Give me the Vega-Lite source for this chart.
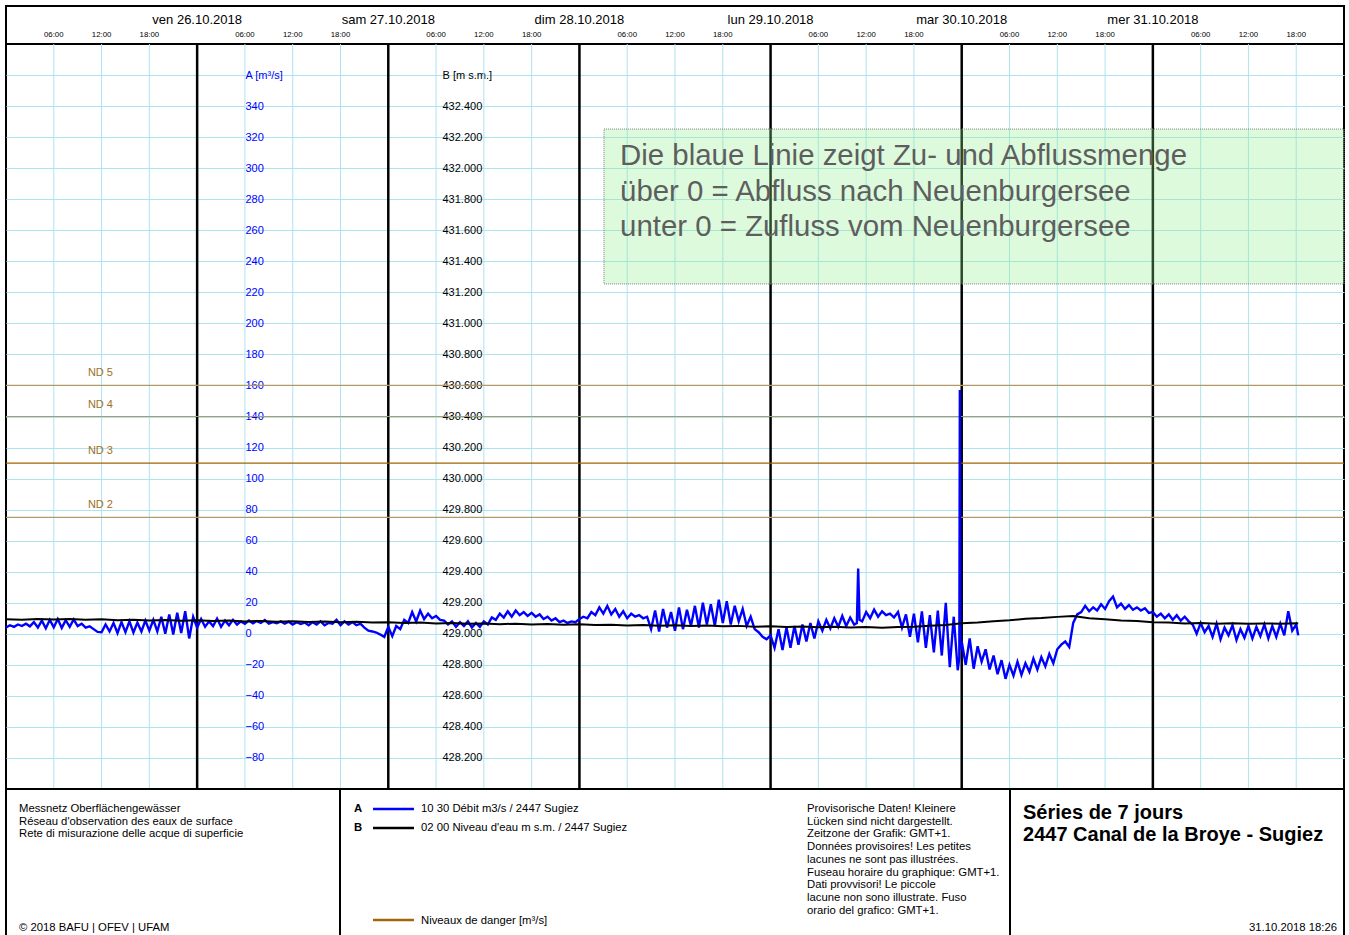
{
  "$schema": "https://vega.github.io/schema/vega-lite/v6.json",
  "padding": {"left": 0, "top": 5, "right": 5, "bottom": 0},
  "background": "white",
  "spacing": 0,
  "bounds": "flush",
  "config": {
    "font": "Liberation Sans",
    "view": {"stroke": "#000000", "strokeWidth": 2},
    "concat": {"spacing": 0}
  },
  "datasets": {
    "flow": [
      {"t":"2018-10-25T00:00","a":4},{"t":"2018-10-25T00:30","a":5.5},{"t":"2018-10-25T01:00","a":4.5},{"t":"2018-10-25T01:30","a":6},
      {"t":"2018-10-25T02:00","a":5},{"t":"2018-10-25T02:30","a":6.5},{"t":"2018-10-25T03:00","a":4.8},{"t":"2018-10-25T03:30","a":7.5},
      {"t":"2018-10-25T04:00","a":4},{"t":"2018-10-25T04:30","a":8.5},{"t":"2018-10-25T05:00","a":3.5},{"t":"2018-10-25T05:30","a":9},
      {"t":"2018-10-25T06:00","a":4.2},{"t":"2018-10-25T06:30","a":9.5},{"t":"2018-10-25T07:00","a":3.8},{"t":"2018-10-25T07:30","a":8.8},
      {"t":"2018-10-25T08:00","a":4.5},{"t":"2018-10-25T08:30","a":9.2},{"t":"2018-10-25T09:00","a":5},{"t":"2018-10-25T09:30","a":6.5},
      {"t":"2018-10-25T10:00","a":4},{"t":"2018-10-25T10:30","a":4.8},{"t":"2018-10-25T11:00","a":3},{"t":"2018-10-25T11:30","a":1.2},
      {"t":"2018-10-25T12:00","a":1},{"t":"2018-10-25T12:30","a":6},{"t":"2018-10-25T13:00","a":1.5},{"t":"2018-10-25T13:30","a":7},
      {"t":"2018-10-25T14:00","a":0.5},{"t":"2018-10-25T14:30","a":7.5},{"t":"2018-10-25T15:00","a":1},{"t":"2018-10-25T15:30","a":8},
      {"t":"2018-10-25T16:00","a":0.8},{"t":"2018-10-25T16:30","a":7.2},{"t":"2018-10-25T17:00","a":1.5},{"t":"2018-10-25T17:30","a":8.5},
      {"t":"2018-10-25T18:00","a":2},{"t":"2018-10-25T18:30","a":9},{"t":"2018-10-25T19:00","a":1.5},{"t":"2018-10-25T19:30","a":11},
      {"t":"2018-10-25T20:00","a":0},{"t":"2018-10-25T20:30","a":12.5},{"t":"2018-10-25T21:00","a":-0.5},{"t":"2018-10-25T21:30","a":13.5},
      {"t":"2018-10-25T22:00","a":0.5},{"t":"2018-10-25T22:30","a":14.5},{"t":"2018-10-25T23:00","a":-3},{"t":"2018-10-25T23:30","a":11},
      {"t":"2018-10-26T00:00","a":4},{"t":"2018-10-26T00:30","a":9.5},{"t":"2018-10-26T01:00","a":4.5},{"t":"2018-10-26T01:30","a":8},
      {"t":"2018-10-26T02:00","a":5},{"t":"2018-10-26T02:30","a":9.8},{"t":"2018-10-26T03:00","a":4.5},{"t":"2018-10-26T03:30","a":8.5},
      {"t":"2018-10-26T04:00","a":5.5},{"t":"2018-10-26T04:30","a":9},{"t":"2018-10-26T05:00","a":6},{"t":"2018-10-26T05:30","a":8},
      {"t":"2018-10-26T06:00","a":6.5},{"t":"2018-10-26T06:30","a":8.5},{"t":"2018-10-26T07:00","a":6.8},{"t":"2018-10-26T07:30","a":8.2},
      {"t":"2018-10-26T08:00","a":7},{"t":"2018-10-26T08:30","a":8.8},{"t":"2018-10-26T09:00","a":6.5},{"t":"2018-10-26T09:30","a":7.5},
      {"t":"2018-10-26T10:00","a":6.8},{"t":"2018-10-26T10:30","a":8},{"t":"2018-10-26T11:00","a":6.5},{"t":"2018-10-26T11:30","a":7.8},
      {"t":"2018-10-26T12:00","a":6},{"t":"2018-10-26T12:30","a":7.5},{"t":"2018-10-26T13:00","a":6.3},{"t":"2018-10-26T13:30","a":7.2},
      {"t":"2018-10-26T14:00","a":5.5},{"t":"2018-10-26T14:30","a":7.5},{"t":"2018-10-26T15:00","a":6},{"t":"2018-10-26T15:30","a":8},
      {"t":"2018-10-26T16:00","a":5.5},{"t":"2018-10-26T16:30","a":7},{"t":"2018-10-26T17:00","a":6.5},{"t":"2018-10-26T17:30","a":9},
      {"t":"2018-10-26T18:00","a":5.5},{"t":"2018-10-26T18:30","a":8},{"t":"2018-10-26T19:00","a":6},{"t":"2018-10-26T19:30","a":7.5},
      {"t":"2018-10-26T20:00","a":5.5},{"t":"2018-10-26T20:30","a":6.5},{"t":"2018-10-26T21:00","a":4},{"t":"2018-10-26T21:30","a":2},
      {"t":"2018-10-26T22:00","a":1.5},{"t":"2018-10-26T22:30","a":0.8},{"t":"2018-10-26T23:00","a":-0.5},{"t":"2018-10-26T23:30","a":-2},
      {"t":"2018-10-27T00:00","a":4.5},{"t":"2018-10-27T00:30","a":-1.5},{"t":"2018-10-27T01:00","a":5},{"t":"2018-10-27T01:30","a":3},
      {"t":"2018-10-27T02:00","a":9},{"t":"2018-10-27T02:30","a":7},{"t":"2018-10-27T03:00","a":14},{"t":"2018-10-27T03:30","a":8},
      {"t":"2018-10-27T04:00","a":15},{"t":"2018-10-27T04:30","a":9.5},{"t":"2018-10-27T05:00","a":13},{"t":"2018-10-27T05:30","a":10},
      {"t":"2018-10-27T06:00","a":11.5},{"t":"2018-10-27T06:30","a":9},{"t":"2018-10-27T07:00","a":8.5},{"t":"2018-10-27T07:30","a":6},
      {"t":"2018-10-27T08:00","a":8},{"t":"2018-10-27T08:30","a":4.5},{"t":"2018-10-27T09:00","a":7.5},{"t":"2018-10-27T09:30","a":5},
      {"t":"2018-10-27T10:00","a":8},{"t":"2018-10-27T10:30","a":4},{"t":"2018-10-27T11:00","a":7},{"t":"2018-10-27T11:30","a":4.5},
      {"t":"2018-10-27T12:00","a":8},{"t":"2018-10-27T12:30","a":6},{"t":"2018-10-27T13:00","a":10.5},{"t":"2018-10-27T13:30","a":9},
      {"t":"2018-10-27T14:00","a":13},{"t":"2018-10-27T14:30","a":10.5},{"t":"2018-10-27T15:00","a":14.5},{"t":"2018-10-27T15:30","a":11},
      {"t":"2018-10-27T16:00","a":15},{"t":"2018-10-27T16:30","a":12},{"t":"2018-10-27T17:00","a":14},{"t":"2018-10-27T17:30","a":11.5},
      {"t":"2018-10-27T18:00","a":13.5},{"t":"2018-10-27T18:30","a":11},{"t":"2018-10-27T19:00","a":12.5},{"t":"2018-10-27T19:30","a":9.5},
      {"t":"2018-10-27T20:00","a":11},{"t":"2018-10-27T20:30","a":8.5},{"t":"2018-10-27T21:00","a":10},{"t":"2018-10-27T21:30","a":7.5},
      {"t":"2018-10-27T22:00","a":8.5},{"t":"2018-10-27T22:30","a":7},{"t":"2018-10-27T23:00","a":8},{"t":"2018-10-27T23:30","a":7.5},
      {"t":"2018-10-28T00:00","a":9.5},{"t":"2018-10-28T00:30","a":11},{"t":"2018-10-28T01:00","a":10},{"t":"2018-10-28T01:30","a":14},
      {"t":"2018-10-28T02:00","a":12},{"t":"2018-10-28T02:30","a":17},{"t":"2018-10-28T03:00","a":13},{"t":"2018-10-28T03:30","a":18},
      {"t":"2018-10-28T04:00","a":12.5},{"t":"2018-10-28T04:30","a":16},{"t":"2018-10-28T05:00","a":11},{"t":"2018-10-28T05:30","a":14.5},
      {"t":"2018-10-28T06:00","a":10},{"t":"2018-10-28T06:30","a":13},{"t":"2018-10-28T07:00","a":11},{"t":"2018-10-28T07:30","a":12},
      {"t":"2018-10-28T08:00","a":10},{"t":"2018-10-28T08:30","a":11},{"t":"2018-10-28T09:00","a":3},{"t":"2018-10-28T09:30","a":15},
      {"t":"2018-10-28T10:00","a":1.5},{"t":"2018-10-28T10:30","a":16},{"t":"2018-10-28T11:00","a":4},{"t":"2018-10-28T11:30","a":14},
      {"t":"2018-10-28T12:00","a":2},{"t":"2018-10-28T12:30","a":17},{"t":"2018-10-28T13:00","a":3},{"t":"2018-10-28T13:30","a":15.5},
      {"t":"2018-10-28T14:00","a":5},{"t":"2018-10-28T14:30","a":18},{"t":"2018-10-28T15:00","a":4},{"t":"2018-10-28T15:30","a":20},
      {"t":"2018-10-28T16:00","a":6},{"t":"2018-10-28T16:30","a":19},{"t":"2018-10-28T17:00","a":5},{"t":"2018-10-28T17:30","a":22},
      {"t":"2018-10-28T18:00","a":7},{"t":"2018-10-28T18:30","a":21},{"t":"2018-10-28T19:00","a":6},{"t":"2018-10-28T19:30","a":18},
      {"t":"2018-10-28T20:00","a":8},{"t":"2018-10-28T20:30","a":16},{"t":"2018-10-28T21:00","a":5},{"t":"2018-10-28T21:30","a":11},
      {"t":"2018-10-28T22:00","a":3},{"t":"2018-10-28T22:30","a":1},{"t":"2018-10-28T23:00","a":-2},{"t":"2018-10-28T23:30","a":-3.5},
      {"t":"2018-10-29T00:00","a":-1},{"t":"2018-10-29T00:30","a":-9},{"t":"2018-10-29T01:00","a":3},{"t":"2018-10-29T01:30","a":-10.5},
      {"t":"2018-10-29T02:00","a":4},{"t":"2018-10-29T02:30","a":-9},{"t":"2018-10-29T03:00","a":5},{"t":"2018-10-29T03:30","a":-7},
      {"t":"2018-10-29T04:00","a":6},{"t":"2018-10-29T04:30","a":-5},{"t":"2018-10-29T05:00","a":7},{"t":"2018-10-29T05:30","a":-3},
      {"t":"2018-10-29T06:00","a":8},{"t":"2018-10-29T06:30","a":2},{"t":"2018-10-29T07:00","a":9},{"t":"2018-10-29T07:30","a":3.5},
      {"t":"2018-10-29T08:00","a":10},{"t":"2018-10-29T08:30","a":4.5},{"t":"2018-10-29T09:00","a":11.5},{"t":"2018-10-29T09:30","a":5},
      {"t":"2018-10-29T10:00","a":10.5},{"t":"2018-10-29T10:30","a":6},{"t":"2018-10-29T10:50","a":7},{"t":"2018-10-29T11:00","a":42},
      {"t":"2018-10-29T11:10","a":9},{"t":"2018-10-29T11:30","a":8},
      {"t":"2018-10-29T12:00","a":14},{"t":"2018-10-29T12:30","a":10},{"t":"2018-10-29T13:00","a":15.5},{"t":"2018-10-29T13:30","a":11},
      {"t":"2018-10-29T14:00","a":14.5},{"t":"2018-10-29T14:30","a":12},{"t":"2018-10-29T15:00","a":13},{"t":"2018-10-29T15:30","a":10.5},
      {"t":"2018-10-29T16:00","a":14},{"t":"2018-10-29T16:30","a":4},{"t":"2018-10-29T17:00","a":12.5},{"t":"2018-10-29T17:30","a":-2},
      {"t":"2018-10-29T18:00","a":13},{"t":"2018-10-29T18:30","a":-5.5},{"t":"2018-10-29T19:00","a":14.5},{"t":"2018-10-29T19:30","a":-9},
      {"t":"2018-10-29T20:00","a":12},{"t":"2018-10-29T20:30","a":-12},{"t":"2018-10-29T21:00","a":15},{"t":"2018-10-29T21:30","a":-14},
      {"t":"2018-10-29T22:00","a":20},{"t":"2018-10-29T22:30","a":-21.5},{"t":"2018-10-29T23:00","a":11},{"t":"2018-10-29T23:30","a":-23.5},
      {"t":"2018-10-29T23:42","a":-15},{"t":"2018-10-29T23:46","a":157},{"t":"2018-10-29T23:50","a":-10},
      {"t":"2018-10-30T00:00","a":-5},{"t":"2018-10-30T00:30","a":-20},{"t":"2018-10-30T01:00","a":-3},{"t":"2018-10-30T01:30","a":-22.5},
      {"t":"2018-10-30T02:00","a":-8},{"t":"2018-10-30T02:30","a":-18},{"t":"2018-10-30T03:00","a":-10},{"t":"2018-10-30T03:30","a":-23},
      {"t":"2018-10-30T04:00","a":-14},{"t":"2018-10-30T04:30","a":-26},{"t":"2018-10-30T05:00","a":-17},{"t":"2018-10-30T05:30","a":-29},
      {"t":"2018-10-30T06:00","a":-20},{"t":"2018-10-30T06:30","a":-27},{"t":"2018-10-30T07:00","a":-18},{"t":"2018-10-30T07:30","a":-26.5},
      {"t":"2018-10-30T08:00","a":-19},{"t":"2018-10-30T08:30","a":-24.5},{"t":"2018-10-30T09:00","a":-16},{"t":"2018-10-30T09:30","a":-23},
      {"t":"2018-10-30T10:00","a":-15},{"t":"2018-10-30T10:30","a":-21},{"t":"2018-10-30T11:00","a":-13},{"t":"2018-10-30T11:30","a":-19},
      {"t":"2018-10-30T12:00","a":-10},{"t":"2018-10-30T12:30","a":-7},{"t":"2018-10-30T13:00","a":-5},{"t":"2018-10-30T13:30","a":-8.5},
      {"t":"2018-10-30T14:00","a":7},{"t":"2018-10-30T14:30","a":12.5},{"t":"2018-10-30T15:00","a":14},{"t":"2018-10-30T15:30","a":18},
      {"t":"2018-10-30T16:00","a":14.5},{"t":"2018-10-30T16:30","a":17},{"t":"2018-10-30T17:00","a":15},{"t":"2018-10-30T17:30","a":19},
      {"t":"2018-10-30T18:00","a":16},{"t":"2018-10-30T18:30","a":21},{"t":"2018-10-30T19:00","a":24},{"t":"2018-10-30T19:30","a":17},
      {"t":"2018-10-30T20:00","a":19.5},{"t":"2018-10-30T20:30","a":16},{"t":"2018-10-30T21:00","a":18.5},{"t":"2018-10-30T21:30","a":15.5},
      {"t":"2018-10-30T22:00","a":17},{"t":"2018-10-30T22:30","a":15},{"t":"2018-10-30T23:00","a":16.5},{"t":"2018-10-30T23:30","a":13.5},
      {"t":"2018-10-31T00:00","a":14},{"t":"2018-10-31T00:30","a":11},{"t":"2018-10-31T01:00","a":13},{"t":"2018-10-31T01:30","a":10},
      {"t":"2018-10-31T02:00","a":12.5},{"t":"2018-10-31T02:30","a":9},{"t":"2018-10-31T03:00","a":12},{"t":"2018-10-31T03:30","a":8.5},
      {"t":"2018-10-31T04:00","a":11},{"t":"2018-10-31T04:30","a":8},{"t":"2018-10-31T05:00","a":6},{"t":"2018-10-31T05:30","a":0},
      {"t":"2018-10-31T06:00","a":7},{"t":"2018-10-31T06:30","a":1},{"t":"2018-10-31T07:00","a":5},{"t":"2018-10-31T07:30","a":-2},
      {"t":"2018-10-31T08:00","a":6.5},{"t":"2018-10-31T08:30","a":-3.5},{"t":"2018-10-31T09:00","a":4},{"t":"2018-10-31T09:30","a":-1},
      {"t":"2018-10-31T10:00","a":5.5},{"t":"2018-10-31T10:30","a":-4},{"t":"2018-10-31T11:00","a":3},{"t":"2018-10-31T11:30","a":-2.5},
      {"t":"2018-10-31T12:00","a":5},{"t":"2018-10-31T12:30","a":-3},{"t":"2018-10-31T13:00","a":4.5},{"t":"2018-10-31T13:30","a":-1.5},
      {"t":"2018-10-31T14:00","a":6},{"t":"2018-10-31T14:30","a":-3},{"t":"2018-10-31T15:00","a":5},{"t":"2018-10-31T15:30","a":-2},
      {"t":"2018-10-31T16:00","a":6.5},{"t":"2018-10-31T16:30","a":-1},{"t":"2018-10-31T17:00","a":14.5},{"t":"2018-10-31T17:30","a":2},
      {"t":"2018-10-31T18:00","a":6},{"t":"2018-10-31T18:15","a":-1}
    ],
    "level": [
      {"t":"2018-10-25T00:00","b":429.094},{"t":"2018-10-25T02:00","b":429.091},{"t":"2018-10-25T04:00","b":429.096},{"t":"2018-10-25T06:00","b":429.092},
      {"t":"2018-10-25T08:00","b":429.095},{"t":"2018-10-25T10:00","b":429.090},{"t":"2018-10-25T12:00","b":429.093},{"t":"2018-10-25T14:00","b":429.088},
      {"t":"2018-10-25T16:00","b":429.091},{"t":"2018-10-25T18:00","b":429.086},{"t":"2018-10-25T20:00","b":429.089},{"t":"2018-10-25T22:00","b":429.084},
      {"t":"2018-10-26T00:00","b":429.087},{"t":"2018-10-26T02:00","b":429.082},{"t":"2018-10-26T04:00","b":429.085},{"t":"2018-10-26T06:00","b":429.080},
      {"t":"2018-10-26T08:00","b":429.083},{"t":"2018-10-26T10:00","b":429.078},{"t":"2018-10-26T12:00","b":429.081},{"t":"2018-10-26T14:00","b":429.076},
      {"t":"2018-10-26T16:00","b":429.079},{"t":"2018-10-26T18:00","b":429.074},{"t":"2018-10-26T20:00","b":429.077},{"t":"2018-10-26T22:00","b":429.072},
      {"t":"2018-10-27T00:00","b":429.075},{"t":"2018-10-27T02:00","b":429.069},{"t":"2018-10-27T04:00","b":429.072},{"t":"2018-10-27T06:00","b":429.066},
      {"t":"2018-10-27T08:00","b":429.069},{"t":"2018-10-27T10:00","b":429.064},{"t":"2018-10-27T12:00","b":429.067},{"t":"2018-10-27T14:00","b":429.062},
      {"t":"2018-10-27T16:00","b":429.065},{"t":"2018-10-27T18:00","b":429.060},{"t":"2018-10-27T20:00","b":429.063},{"t":"2018-10-27T22:00","b":429.058},
      {"t":"2018-10-28T00:00","b":429.061},{"t":"2018-10-28T02:00","b":429.056},{"t":"2018-10-28T04:00","b":429.059},{"t":"2018-10-28T06:00","b":429.054},
      {"t":"2018-10-28T08:00","b":429.057},{"t":"2018-10-28T10:00","b":429.052},{"t":"2018-10-28T12:00","b":429.055},{"t":"2018-10-28T14:00","b":429.050},
      {"t":"2018-10-28T16:00","b":429.053},{"t":"2018-10-28T18:00","b":429.048},{"t":"2018-10-28T20:00","b":429.051},{"t":"2018-10-28T22:00","b":429.046},
      {"t":"2018-10-29T00:00","b":429.049},{"t":"2018-10-29T02:00","b":429.044},{"t":"2018-10-29T04:00","b":429.047},{"t":"2018-10-29T06:00","b":429.042},
      {"t":"2018-10-29T08:00","b":429.045},{"t":"2018-10-29T10:00","b":429.040},{"t":"2018-10-29T12:00","b":429.043},{"t":"2018-10-29T14:00","b":429.039},
      {"t":"2018-10-29T16:00","b":429.044},{"t":"2018-10-29T18:00","b":429.046},{"t":"2018-10-29T20:00","b":429.052},{"t":"2018-10-29T22:00","b":429.057},
      {"t":"2018-10-30T00:00","b":429.068},{"t":"2018-10-30T02:00","b":429.073},{"t":"2018-10-30T04:00","b":429.081},{"t":"2018-10-30T06:00","b":429.087},
      {"t":"2018-10-30T08:00","b":429.097},{"t":"2018-10-30T10:00","b":429.101},{"t":"2018-10-30T12:00","b":429.109},{"t":"2018-10-30T14:00","b":429.114},
      {"t":"2018-10-30T16:00","b":429.100},{"t":"2018-10-30T18:00","b":429.094},{"t":"2018-10-30T20:00","b":429.086},{"t":"2018-10-30T22:00","b":429.082},
      {"t":"2018-10-31T00:00","b":429.074},{"t":"2018-10-31T02:00","b":429.072},{"t":"2018-10-31T04:00","b":429.067},{"t":"2018-10-31T06:00","b":429.069},
      {"t":"2018-10-31T08:00","b":429.065},{"t":"2018-10-31T10:00","b":429.068},{"t":"2018-10-31T12:00","b":429.064},{"t":"2018-10-31T14:00","b":429.067},
      {"t":"2018-10-31T16:00","b":429.065},{"t":"2018-10-31T18:00","b":429.068},{"t":"2018-10-31T18:15","b":429.066}
    ],
    "days": [
      {"t":"2018-10-26T00:00","lab":"ven 26.10.2018"},
      {"t":"2018-10-27T00:00","lab":"sam 27.10.2018"},
      {"t":"2018-10-28T00:00","lab":"dim 28.10.2018"},
      {"t":"2018-10-29T00:00","lab":"lun 29.10.2018"},
      {"t":"2018-10-30T00:00","lab":"mar 30.10.2018"},
      {"t":"2018-10-31T00:00","lab":"mer 31.10.2018"}
    ],
    "hours": [
      {"t":"2018-10-25T06:00"},{"t":"2018-10-25T12:00"},{"t":"2018-10-25T18:00"},
      {"t":"2018-10-26T06:00"},{"t":"2018-10-26T12:00"},{"t":"2018-10-26T18:00"},
      {"t":"2018-10-27T06:00"},{"t":"2018-10-27T12:00"},{"t":"2018-10-27T18:00"},
      {"t":"2018-10-28T06:00"},{"t":"2018-10-28T12:00"},{"t":"2018-10-28T18:00"},
      {"t":"2018-10-29T06:00"},{"t":"2018-10-29T12:00"},{"t":"2018-10-29T18:00"},
      {"t":"2018-10-30T06:00"},{"t":"2018-10-30T12:00"},{"t":"2018-10-30T18:00"},
      {"t":"2018-10-31T06:00"},{"t":"2018-10-31T12:00"},{"t":"2018-10-31T18:00"}
    ],
    "danger": [
      {"nd":"ND 5","a":160},{"nd":"ND 4","a":140},{"nd":"ND 3","a":110},{"nd":"ND 2","a":75}
    ],
    "note": [
      {"txt":"Die blaue Linie zeigt Zu- und Abflussmenge\nüber 0 = Abfluss nach Neuenburgersee\nunter 0 = Zufluss vom Neuenburgersee"}
    ]
  },
  "vconcat": [
    {
      "width": 1338,
      "height": 38,
      "layer": [
        {
          "data": {"name": "days"},
          "mark": {"type": "text", "fontSize": 13, "align": "center", "baseline": "middle", "color": "#000000"},
          "encoding": {
            "x": {"field": "t", "type": "temporal", "scale": {"domain": [{"year":2018,"month":10,"date":25},{"year":2018,"month":11,"date":1}], "nice": false}, "axis": null},
            "y": {"datum": 0.368, "type": "quantitative", "scale": {"domain": [0, 1], "reverse": true}, "axis": null},
            "text": {"field": "lab", "type": "nominal"}
          }
        },
        {
          "data": {"name": "hours"},
          "mark": {"type": "text", "fontSize": 7.8, "align": "center", "baseline": "middle", "color": "#000000"},
          "encoding": {
            "x": {"field": "t", "type": "temporal", "scale": {"domain": [{"year":2018,"month":10,"date":25},{"year":2018,"month":11,"date":1}], "nice": false}, "axis": null},
            "y": {"datum": 0.763, "type": "quantitative", "scale": {"domain": [0, 1], "reverse": true}, "axis": null},
            "text": {"field": "t", "type": "temporal", "format": "%H:%M"}
          }
        }
      ]
    },
    {
      "width": 1338,
      "height": 745,
      "layer": [
        {
          "data": {"name": "hours"},
          "mark": {"type": "rule", "color": "#aee3f0", "strokeWidth": 1},
          "encoding": {
            "x": {"field": "t", "type": "temporal", "scale": {"domain": [{"year":2018,"month":10,"date":25},{"year":2018,"month":11,"date":1}], "nice": false}, "axis": null}
          }
        },
        {
          "data": {"name": "days"},
          "mark": {"type": "rule", "color": "#000000", "strokeWidth": 2.5},
          "encoding": {
            "x": {"field": "t", "type": "temporal", "scale": {"domain": [{"year":2018,"month":10,"date":25},{"year":2018,"month":11,"date":1}], "nice": false}, "axis": null}
          }
        },
        {
          "data": {"name": "danger"},
          "mark": {"type": "rule", "strokeWidth": 1.2},
          "encoding": {
            "y": {"field": "a", "type": "quantitative", "scale": {"domain": [-100, 380], "nice": false, "zero": false}, "axis": null},
            "color": {"field": "nd", "type": "nominal", "scale": {"domain": ["ND 5", "ND 4", "ND 3", "ND 2"], "range": ["#b09a6a", "#b09a6a", "#a06400", "#b09a6a"]}, "legend": null}
          }
        },
        {
          "data": {"name": "danger"},
          "mark": {"type": "text", "align": "left", "baseline": "middle", "dy": -12, "fontSize": 11, "color": "#a0701e"},
          "encoding": {
            "x": {"datum": {"year":2018,"month":10,"date":25,"hours":10,"minutes":17}, "type": "temporal", "scale": {"domain": [{"year":2018,"month":10,"date":25},{"year":2018,"month":11,"date":1}], "nice": false}, "axis": null},
            "y": {"field": "a", "type": "quantitative", "scale": {"domain": [-100, 380], "nice": false, "zero": false}, "axis": null},
            "text": {"field": "nd", "type": "nominal"}
          }
        },
        {
          "data": {"name": "flow"},
          "mark": {"type": "line", "color": "#0000ff", "strokeWidth": 2.4},
          "encoding": {
            "x": {"field": "t", "type": "temporal", "scale": {"domain": [{"year":2018,"month":10,"date":25},{"year":2018,"month":11,"date":1}], "nice": false}, "axis": null},
            "y": {
              "field": "a", "type": "quantitative",
              "scale": {"domain": [-100, 380], "nice": false, "zero": false},
              "axis": {
                "orient": "left", "offset": -239,
                "values": [-80,-60,-40,-20,0,20,40,60,80,100,120,140,160,180,200,220,240,260,280,300,320,340,360],
                "grid": true, "gridColor": "#aee3f0", "gridOpacity": 1, "ticks": false, "domain": false,
                "labelAlign": "left", "labelBaseline": "middle", "labelPadding": 0, "labelColor": "#0000ff", "labelFontSize": 11,
                "labelExpr": "datum.value > 340 ? '' : datum.label",
                "title": "A [m³/s]", "titleColor": "#0000ff", "titleFontSize": 11, "titleFontWeight": "normal",
                "titleAngle": 0, "titleAlign": "left", "titleBaseline": "middle", "titleX": 0, "titleY": 31
              }
            }
          }
        },
        {
          "data": {"name": "note"},
          "mark": {"type": "rect", "fill": "#90ee90", "fillOpacity": 0.3, "stroke": "#808080", "strokeDash": [1, 1], "strokeWidth": 1},
          "encoding": {
            "x": {"datum": {"year":2018,"month":10,"date":28,"hours":3,"minutes":5}, "type": "temporal", "scale": {"domain": [{"year":2018,"month":10,"date":25},{"year":2018,"month":11,"date":1}], "nice": false}, "axis": null},
            "x2": {"datum": {"year":2018,"month":11,"date":1}},
            "y": {"datum": 225.4, "type": "quantitative", "scale": {"domain": [-100, 380], "nice": false, "zero": false}, "axis": null},
            "y2": {"datum": 325.2}
          }
        },
        {
          "data": {"name": "note"},
          "mark": {"type": "text", "align": "left", "baseline": "middle", "fontSize": 29.4, "lineHeight": 35.5, "lineBreak": "\n", "color": "#5e5e5e"},
          "encoding": {
            "x": {"datum": {"year":2018,"month":10,"date":28,"hours":5,"minutes":6}, "type": "temporal", "scale": {"domain": [{"year":2018,"month":10,"date":25},{"year":2018,"month":11,"date":1}], "nice": false}, "axis": null},
            "y": {"datum": 307.8, "type": "quantitative", "scale": {"domain": [-100, 380], "nice": false, "zero": false}, "axis": null},
            "text": {"field": "txt", "type": "nominal"}
          }
        },
        {
          "data": {"name": "level"},
          "mark": {"type": "line", "color": "#000000", "strokeWidth": 2},
          "encoding": {
            "x": {"field": "t", "type": "temporal", "scale": {"domain": [{"year":2018,"month":10,"date":25},{"year":2018,"month":11,"date":1}], "nice": false}, "axis": null},
            "y": {
              "field": "b", "type": "quantitative",
              "scale": {"domain": [428, 432.8], "nice": false, "zero": false},
              "axis": {
                "orient": "right", "offset": -907,
                "values": [428.2,428.4,428.6,428.8,429,429.2,429.4,429.6,429.8,430,430.2,430.4,430.6,430.8,431,431.2,431.4,431.6,431.8,432,432.2,432.4],
                "grid": false, "ticks": false, "domain": false,
                "labelAlign": "left", "labelBaseline": "middle", "labelPadding": 5, "labelColor": "#000000", "labelFontSize": 11,
                "format": ".3f",
                "title": "B [m s.m.]", "titleColor": "#000000", "titleFontSize": 11, "titleFontWeight": "normal",
                "titleAngle": 0, "titleAlign": "left", "titleBaseline": "middle", "titleX": 5, "titleY": 31
              }
            }
          }
        }
      ],
      "resolve": {"scale": {"y": "independent", "color": "independent"}, "axis": {"y": "independent"}}
    },
    {
      "spacing": 0,
      "bounds": "flush",
      "hconcat": [
        {
          "width": 334,
          "height": 152,
          "layer": [
            {
              "data": {"values": [{"txt": "Messnetz Oberflächengewässer\nRéseau d'observation des eaux de surface\nRete di misurazione delle acque di superficie"}]},
              "mark": {"type": "text", "align": "left", "baseline": "middle", "fontSize": 11.3, "lineHeight": 12.5, "lineBreak": "\n"},
              "encoding": {
                "x": {"datum": 0.039, "type": "quantitative", "scale": {"domain": [0, 1]}, "axis": null},
                "y": {"datum": 0.1316, "type": "quantitative", "scale": {"domain": [0, 1], "reverse": true}, "axis": null},
                "text": {"field": "txt", "type": "nominal"}
              }
            },
            {
              "data": {"values": [{"txt": "© 2018 BAFU | OFEV | UFAM"}]},
              "mark": {"type": "text", "align": "left", "baseline": "middle", "fontSize": 11.3},
              "encoding": {
                "x": {"datum": 0.039, "type": "quantitative", "scale": {"domain": [0, 1]}, "axis": null},
                "y": {"datum": 0.9145, "type": "quantitative", "scale": {"domain": [0, 1], "reverse": true}, "axis": null},
                "text": {"field": "txt", "type": "nominal"}
              }
            }
          ]
        },
        {
          "width": 670,
          "height": 152,
          "layer": [
            {
              "data": {"values": [{"txt": "A"}]},
              "mark": {"type": "text", "align": "left", "baseline": "middle", "fontSize": 11.3, "fontWeight": "bold"},
              "encoding": {
                "x": {"datum": 0.0209, "type": "quantitative", "scale": {"domain": [0, 1]}, "axis": null},
                "y": {"datum": 0.1316, "type": "quantitative", "scale": {"domain": [0, 1], "reverse": true}, "axis": null},
                "text": {"field": "txt", "type": "nominal"}
              }
            },
            {
              "data": {"values": [{"txt": "B"}]},
              "mark": {"type": "text", "align": "left", "baseline": "middle", "fontSize": 11.3, "fontWeight": "bold"},
              "encoding": {
                "x": {"datum": 0.0209, "type": "quantitative", "scale": {"domain": [0, 1]}, "axis": null},
                "y": {"datum": 0.2566, "type": "quantitative", "scale": {"domain": [0, 1], "reverse": true}, "axis": null},
                "text": {"field": "txt", "type": "nominal"}
              }
            },
            {
              "data": {"values": [{"s": "A"}]},
              "mark": {"type": "rule", "color": "#0000ff", "strokeWidth": 2.5},
              "encoding": {
                "x": {"datum": 0.0493, "type": "quantitative", "scale": {"domain": [0, 1]}, "axis": null},
                "x2": {"datum": 0.1104},
                "y": {"datum": 0.1316, "type": "quantitative", "scale": {"domain": [0, 1], "reverse": true}, "axis": null}
              }
            },
            {
              "data": {"values": [{"s": "B"}]},
              "mark": {"type": "rule", "color": "#000000", "strokeWidth": 2.5},
              "encoding": {
                "x": {"datum": 0.0493, "type": "quantitative", "scale": {"domain": [0, 1]}, "axis": null},
                "x2": {"datum": 0.1104},
                "y": {"datum": 0.2566, "type": "quantitative", "scale": {"domain": [0, 1], "reverse": true}, "axis": null}
              }
            },
            {
              "data": {"values": [{"s": "ND"}]},
              "mark": {"type": "rule", "color": "#a0660a", "strokeWidth": 2.5},
              "encoding": {
                "x": {"datum": 0.0493, "type": "quantitative", "scale": {"domain": [0, 1]}, "axis": null},
                "x2": {"datum": 0.1104},
                "y": {"datum": 0.8618, "type": "quantitative", "scale": {"domain": [0, 1], "reverse": true}, "axis": null}
              }
            },
            {
              "data": {"values": [{"txt": "10 30 Débit m3/s / 2447 Sugiez"}]},
              "mark": {"type": "text", "align": "left", "baseline": "middle", "fontSize": 11.3},
              "encoding": {
                "x": {"datum": 0.1209, "type": "quantitative", "scale": {"domain": [0, 1]}, "axis": null},
                "y": {"datum": 0.1316, "type": "quantitative", "scale": {"domain": [0, 1], "reverse": true}, "axis": null},
                "text": {"field": "txt", "type": "nominal"}
              }
            },
            {
              "data": {"values": [{"txt": "02 00 Niveau d'eau m s.m. / 2447 Sugiez"}]},
              "mark": {"type": "text", "align": "left", "baseline": "middle", "fontSize": 11.3},
              "encoding": {
                "x": {"datum": 0.1209, "type": "quantitative", "scale": {"domain": [0, 1]}, "axis": null},
                "y": {"datum": 0.2566, "type": "quantitative", "scale": {"domain": [0, 1], "reverse": true}, "axis": null},
                "text": {"field": "txt", "type": "nominal"}
              }
            },
            {
              "data": {"values": [{"txt": "Niveaux de danger [m³/s]"}]},
              "mark": {"type": "text", "align": "left", "baseline": "middle", "fontSize": 11.3},
              "encoding": {
                "x": {"datum": 0.1209, "type": "quantitative", "scale": {"domain": [0, 1]}, "axis": null},
                "y": {"datum": 0.8684, "type": "quantitative", "scale": {"domain": [0, 1], "reverse": true}, "axis": null},
                "text": {"field": "txt", "type": "nominal"}
              }
            },
            {
              "data": {"values": [{"txt": "Provisorische Daten! Kleinere\nLücken sind nicht dargestellt.\nZeitzone der Grafik: GMT+1.\nDonnées provisoires! Les petites\nlacunes ne sont pas illustrées.\nFuseau horaire du graphique: GMT+1.\nDati provvisori! Le piccole\nlacune non sono illustrate. Fuso\norario del grafico: GMT+1."}]},
              "mark": {"type": "text", "align": "left", "baseline": "middle", "fontSize": 11.3, "lineHeight": 12.7, "lineBreak": "\n"},
              "encoding": {
                "x": {"datum": 0.697, "type": "quantitative", "scale": {"domain": [0, 1]}, "axis": null},
                "y": {"datum": 0.1316, "type": "quantitative", "scale": {"domain": [0, 1], "reverse": true}, "axis": null},
                "text": {"field": "txt", "type": "nominal"}
              }
            }
          ]
        },
        {
          "width": 334,
          "height": 152,
          "layer": [
            {
              "data": {"values": [{"txt": "Séries de 7 jours\n2447 Canal de la Broye - Sugiez"}]},
              "mark": {"type": "text", "align": "left", "baseline": "middle", "fontSize": 20, "fontWeight": "bold", "lineHeight": 22, "lineBreak": "\n"},
              "encoding": {
                "x": {"datum": 0.039, "type": "quantitative", "scale": {"domain": [0, 1]}, "axis": null},
                "y": {"datum": 0.158, "type": "quantitative", "scale": {"domain": [0, 1], "reverse": true}, "axis": null},
                "text": {"field": "txt", "type": "nominal"}
              }
            },
            {
              "data": {"values": [{"txt": "31.10.2018 18:26"}]},
              "mark": {"type": "text", "align": "right", "baseline": "middle", "fontSize": 11.3},
              "encoding": {
                "x": {"datum": 0.979, "type": "quantitative", "scale": {"domain": [0, 1]}, "axis": null},
                "y": {"datum": 0.9145, "type": "quantitative", "scale": {"domain": [0, 1], "reverse": true}, "axis": null},
                "text": {"field": "txt", "type": "nominal"}
              }
            }
          ]
        }
      ]
    }
  ]
}
